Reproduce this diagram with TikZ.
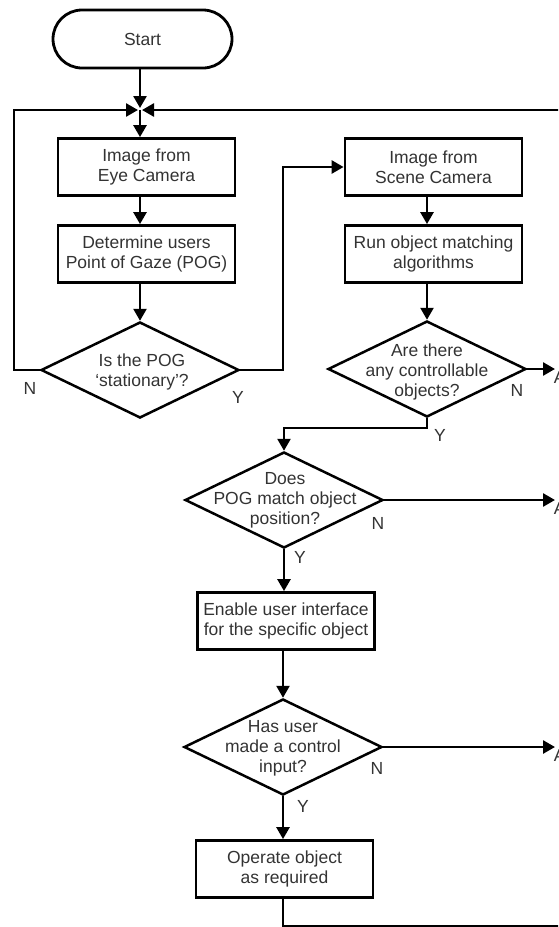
\documentclass[tikz,border=0pt]{standalone}
\usepackage{fontspec}
\setmainfont{Liberation Sans}
\usetikzlibrary{arrows.meta,shapes.geometric}
\begin{document}
\begin{tikzpicture}[x=1pt,y=-1pt,
  line width=2.6pt,
  txt/.style={font=\fontsize{17.5}{20}\selectfont, text=black!80, inner sep=0pt, align=center},
  box/.style={txt, draw, line width=2.8pt, minimum width=177pt, minimum height=57pt},
  term/.style={txt, draw, line width=2.8pt, rounded corners=29pt, minimum width=179pt, minimum height=58pt},
  dia/.style={draw, diamond, line width=2.5pt, inner sep=0pt, minimum width=198pt, minimum height=96pt},
  lbl/.style={txt},
  arr/.style={-{Triangle[length=12pt,width=13pt]}},
]
\useasboundingbox (0,0) rectangle (558,927);
\clip (0,0) rectangle (558,927);

% process boxes and terminator
\node[term] (start) at (142.5,39) {Start};
\node[box] (b1) at (146.5,167) {Image from\\Eye Camera};
\node[box] (b2) at (146.5,254) {Determine users\\Point of Gaze (POG)};
\node[box] (b3) at (433.5,167) {Image from\\Scene Camera};
\node[box] (b4) at (433.5,254) {Run object matching\\algorithms};
\node[box] (b5) at (286,621) {Enable user interface\\for the specific object};
\node[box] (b6) at (284.5,869) {Operate object\\as required};

% decisions: outline plus centred question text
\node[dia] (d1) at (140,370) {};
\node[txt] (d1t) at (142,372) {Is the POG\\‘stationary’?};
\node[dia] (d2) at (427,369) {};
\node[txt] (d2t) at (427,372) {Are there\\any controllable\\objects?};
\node[dia] (d3) at (284,500) {};
\node[txt] (d3t) at (285,500) {Does\\POG match object\\position?};
\node[dia] (d4) at (283,747) {};
\node[txt] (d4t) at (283,748) {Has user\\made a control\\input?};

% branch labels
\node[lbl] (n1) at (30,388) {N};
\node[lbl] (y1) at (238,397) {Y};
\node[lbl] (n2) at (517,390) {N};
\node[lbl] (y2) at (440,435) {Y};
\node[lbl] (n3) at (378,523) {N};
\node[lbl] (y3) at (300,557) {Y};
\node[lbl] (n4) at (377,768) {N};
\node[lbl] (y4) at (303,806) {Y};

% off-page connector labels at the right edge
\node[txt, anchor=base west] (a2) at (552.5,383) {A};
\node[txt, anchor=base west] (a3) at (552.5,514) {A};
\node[txt, anchor=base west] (a4) at (552.5,761) {A};

% routing points
\coordinate (jn) at (140,110);
\coordinate (loopL) at (14,110);
\coordinate (loopR) at (565,110);
\coordinate (colY) at (283,167);
\coordinate (edgeR) at (555,0);
\coordinate (bend) at (0,428);
\coordinate (foot) at (565,926);

% connectors
\draw[arr, shorten >=2pt] (start.south -| jn) -- (jn);
\draw[arr, shorten >=2pt] (d1.west) -| (loopL) -- (jn);
\draw[arr, shorten >=2pt] (loopR) -- (jn);
\draw[arr] (jn) -- (jn |- b1.north);
\draw[arr] (jn |- b1.south) -- (jn |- b2.north);
\draw[arr] (jn |- b2.south) -- (d1.north);
\draw[arr] (d1.east) -| (colY) -- (b3.west);
\draw[arr] (b3.south -| d2) -- (b4.north -| d2);
\draw[arr] (b4.south -| d2) -- (d2.north);
\draw[arr] (d2.east) -- (d2.east -| edgeR);
\draw[arr] (d2.south) -- (d2.south |- bend) -| (d3.north);
\draw[arr] (d3.east) -- (d3.east -| edgeR);
\draw[arr] (d3.south) -- (b5.north -| d3.south);
\draw[arr] (b5.south -| d4) -- (d4.north);
\draw[arr] (d4.east) -- (d4.east -| edgeR);
\draw[arr] (d4.south) -- (b6.north -| d4.south);
\draw (b6.south -| d4) |- (foot);
\end{tikzpicture}
\end{document}
